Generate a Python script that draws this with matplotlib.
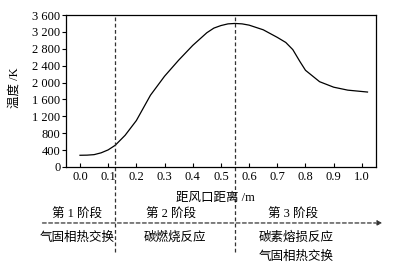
import matplotlib
matplotlib.use("Agg")
import matplotlib.pyplot as plt
from matplotlib.transforms import blended_transform_factory

plt.rcParams['font.family'] = ['Liberation Serif', 'Noto Sans CJK SC']

# 距风口距离 (m) 与温度 (K)
dist = [0.0, 0.025, 0.05, 0.075, 0.10, 0.125, 0.16, 0.20, 0.25, 0.30, 0.35, 0.40,
        0.45, 0.475, 0.50, 0.525, 0.55, 0.575, 0.60, 0.65, 0.70, 0.73, 0.755,
        0.78, 0.80, 0.85, 0.90, 0.95, 1.02]
temp = [277, 280, 292, 335, 405, 514, 750, 1100, 1700, 2150, 2530, 2880,
        3180, 3290, 3350, 3390, 3400, 3390, 3360, 3250, 3070, 2950, 2780,
        2500, 2290, 2020, 1890, 1820, 1775]

x_ticks = [0.0, 0.1, 0.2, 0.3, 0.4, 0.5, 0.6, 0.7, 0.8, 0.9, 1.0]
x_labels = ["0.0", "0.1", "0.2", "0.3", "0.4", "0.5", "0.6", "0.7", "0.8", "0.9", "1.0"]
y_ticks = [0, 400, 800, 1200, 1600, 2000, 2400, 2800, 3200, 3600]
y_labels = ["0", "400", "800", "1 200", "1 600", "2 000", "2 400", "2 800", "3 200", "3 600"]

# 阶段分界
stage_bounds = [0.125, 0.55]

fig = plt.figure(figsize=(3.97, 2.68), dpi=100)
ax = fig.add_axes([0.166, 0.377, 0.781, 0.567])

ax.plot(dist, temp, color='black', lw=0.9)
ax.set_xlim(-0.05, 1.05)
ax.set_ylim(0, 3600)
ax.set_xticks(x_ticks)
ax.set_xticklabels(x_labels)
ax.set_yticks(y_ticks)
ax.set_yticklabels(y_labels)
ax.tick_params(axis='x', direction='in', length=3, pad=3, labelsize=9)
ax.tick_params(axis='y', direction='out', length=3, pad=1, labelsize=9)
for s in ax.spines.values():
    s.set_linewidth(0.9)

trans = blended_transform_factory(ax.transData, ax.transAxes)
for b in stage_bounds:
    ax.plot([b, b], [-0.56, 1.0], transform=trans, clip_on=False,
            color='#333333', lw=0.9, ls=(0, (3, 2)))

# 横向箭头
ax.annotate('', xy=(0.97, 0.168), xytext=(0.10, 0.168),
            xycoords='figure fraction', textcoords='figure fraction',
            arrowprops=dict(arrowstyle='-|>', ls=(0, (3, 2)), lw=0.9,
                            color='#333333', mutation_scale=7))

W, H = 397.0, 268.0
def ftext(x, y, s, **kw):
    fig.text(x / W, 1 - y / H, s, ha='center', va='center', fontsize=9, **kw)

ftext(215, 198, "距风口距离 /m")
ftext(15, 88, "温度 /K", rotation=90)
ftext(77, 215, "第 1 阶段")
ftext(171, 215, "第 2 阶段")
ftext(293, 215, "第 3 阶段")
ftext(77, 238, "气固相热交换")
ftext(175, 238, "碳燃烧反应")
ftext(296, 238, "碳素熔损反应")
ftext(296, 257, "气固相热交换")

fig.savefig("out.png", dpi=100)
